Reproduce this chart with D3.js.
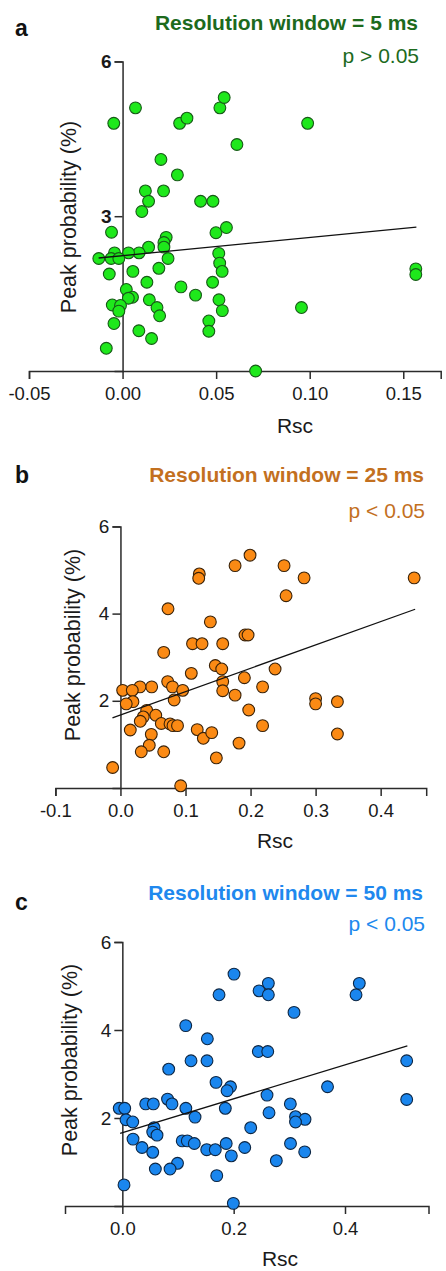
<!DOCTYPE html>
<html>
<head>
<meta charset="utf-8">
<script src="https://cdn.jsdelivr.net/npm/d3@7"></script>
<style>
  html, body { margin: 0; padding: 0; background: #fff; }
  svg { display: block; font-family: "Liberation Sans", Arial, sans-serif; }
</style>
</head>
<body>
<script>
// panel a, resolution window 5 ms
const aRsc = [-0.0047, 0.0069, 0.0305, 0.0344, 0.0520, 0.0543, 0.0989, 0.0611, 0.0205, 0.0293,
    0.0122, 0.0219, 0.0139, 0.0103, 0.0417, 0.0483, -0.0059, 0.0499, 0.0555, 0.0233,
    0.0221, 0.0221, 0.0139, 0.0088, 0.0032, -0.0043, -0.0127, -0.0061, -0.0020, 0.0243,
    0.0514, 0.0519, 0.0532, -0.0071, 0.0055, 0.0194, 0.1567, 0.1567, 0.0130, 0.0481,
    0.0312, 0.0390, 0.0020, 0.0053, 0.0031, -0.0055, -0.0011, -0.0020, 0.0143, 0.0184,
    0.0198, 0.0515, 0.0533, 0.0956, -0.0046, 0.0087, 0.0155, 0.0461, 0.0461, -0.0087, 0.0711]
const aPeak = [4.80, 5.10, 4.80, 4.90, 5.10, 5.30, 4.80, 4.39, 4.10, 3.80,
    3.49, 3.49, 3.29, 3.09, 3.29, 3.29, 2.69, 2.68, 2.78, 2.59,
    2.49, 2.40, 2.40, 2.29, 2.29, 2.29, 2.18, 2.18, 2.18, 2.18,
    2.28, 2.09, 1.93, 1.88, 1.93, 1.99, 1.98, 1.87, 1.72, 1.72,
    1.63, 1.47, 1.58, 1.43, 1.41, 1.28, 1.27, 1.16, 1.38, 1.23,
    1.07, 1.38, 1.17, 1.23, 0.92, 0.78, 0.63, 0.97, 0.77, 0.44, 0.00]

// panel b, resolution window 25 ms
const bRsc = [0.1992, 0.1762, 0.2515, 0.1212, 0.1203, 0.2823, 0.4515, 0.2546, 0.0731, 0.1382,
    0.1915, 0.1962, 0.1108, 0.1254, 0.1572, 0.0665, 0.1458, 0.1557, 0.2377, 0.1089,
    0.1905, 0.1572, 0.0726, 0.0800, 0.0480, 0.0300, 0.0957, 0.0034, 0.0182, 0.2185,
    0.1572, 0.1762, 0.3000, 0.3000, 0.3335, 0.0826, 0.0192, 0.0089, 0.1972, 0.0403,
    0.0543, 0.0351, 0.0305, 0.0628, 0.0762, 0.0808, 0.0877, 0.0151, 0.0474, 0.1180,
    0.1274, 0.1403, 0.2185, 0.3335, 0.1823, 0.0443, 0.0320, 0.0665, 0.1474, -0.0120, 0.0926]
const bPeak = [5.34, 5.10, 5.10, 4.91, 4.81, 4.82, 4.82, 4.41, 4.11, 3.81,
    3.51, 3.51, 3.31, 3.31, 3.31, 3.11, 2.81, 2.73, 2.73, 2.63,
    2.53, 2.44, 2.44, 2.32, 2.32, 2.32, 2.24, 2.24, 2.24, 2.32,
    2.23, 2.13, 2.05, 1.93, 1.98, 2.02, 1.98, 1.93, 1.79, 1.78,
    1.67, 1.63, 1.53, 1.48, 1.47, 1.43, 1.43, 1.33, 1.23, 1.34,
    1.14, 1.27, 1.43, 1.24, 1.03, 0.98, 0.83, 0.83, 0.69, 0.47, 0.05]

// panel c, resolution window 50 ms
const cRsc = [0.2006, 0.2623, 0.4257, 0.2456, 0.2623, 0.4198, 0.1737, 0.3084, 0.1139, 0.1527,
    0.2443, 0.2612, 0.1234, 0.1521, 0.5108, 0.0833, 0.1683, 0.1943, 0.1881, 0.3686,
    0.2599, 0.0812, 0.0892, 0.0420, 0.0557, 0.1141, 0.1850, 0.3018, 0.5108, -0.0056,
    0.0043, 0.2635, 0.1306, 0.3111, 0.3282, 0.3111, 0.0066, 0.0187, 0.0570, 0.0546,
    0.0623, 0.2306, 0.0192, 0.0354, 0.0546, 0.1076, 0.1167, 0.1293, 0.1516, 0.1670,
    0.1866, 0.1958, 0.2199, 0.3021, 0.3276, 0.2766, 0.0991, 0.0857, 0.0593, 0.1696, 0.0030, 0.1994]
const cPeak = [5.27, 5.06, 5.06, 4.89, 4.80, 4.80, 4.80, 4.40, 4.10, 3.80,
    3.51, 3.51, 3.30, 3.30, 3.30, 3.11, 2.81, 2.71, 2.62, 2.71,
    2.52, 2.43, 2.32, 2.32, 2.32, 2.22, 2.22, 2.32, 2.42, 2.22,
    2.22, 2.12, 2.02, 2.03, 1.97, 1.91, 1.96, 1.91, 1.78, 1.68,
    1.61, 1.78, 1.52, 1.33, 1.22, 1.48, 1.48, 1.42, 1.28, 1.28,
    1.42, 1.14, 1.33, 1.42, 1.23, 1.03, 0.97, 0.84, 0.84, 0.69, 0.48, 0.06]

// regression lines (end points)
const aFitX = [-0.0128, 0.157], aFitY = [2.19, 2.79]
const bFitX = [-0.0123, 0.453], bFitY = [1.61, 4.10]
const cFitX = [-0.004, 0.512], cFitY = [1.65, 3.64]

const aXTicks = [-0.05, 0, 0.05, 0.10, 0.15], aYTicks = [3, 6]
const bXTicks = [-0.1, 0, 0.1, 0.2, 0.3, 0.4], bYTicks = [2, 4, 6]
const cXTicks = [0, 0.2, 0.4], cYTicks = [2, 4, 6]

const letters = ['a', 'b', 'c']
const titles = ['Resolution window = 5 ms', 'Resolution window = 25 ms', 'Resolution window = 50 ms']
const pTexts = ['p > 0.05', 'p < 0.05', 'p < 0.05']

const W = 446, H = 1271

const panels = [
    {
        rsc: aRsc, peak: aPeak, fitX: aFitX, fitY: aFitY, xTicks: aXTicks, yTicks: aYTicks,
        xDomain: [-0.05, 0.17], xRange: [29, 440.7], yRange: [371, 61.4], digits: 2, boldY: true,
        fill: '#1ee81b', stroke: '#175a17', titleColor: '#1d6a1d',
        titleAt: [418, 30], pAt: [419, 63], letterAt: [15, 36], rscAt: [295, 433], ylabAt: [68, 217]
    },
    {
        rsc: bRsc, peak: bPeak, fitX: bFitX, fitY: bFitY, xTicks: bXTicks, yTicks: bYTicks,
        xDomain: [-0.1, 0.47], xRange: [55.4, 426.2], yRange: [788, 526.4], digits: 1, boldY: false,
        fill: '#fb8a14', stroke: '#3a2208', titleColor: '#c3701f',
        titleAt: [424, 482], pAt: [425, 518], letterAt: [15, 483], rscAt: [275, 848], ylabAt: [72, 645]
    },
    {
        rsc: cRsc, peak: cPeak, fitX: cFitX, fitY: cFitY, xTicks: cXTicks, yTicks: cYTicks,
        xDomain: [-0.103, 0.55], xRange: [65, 428.5], yRange: [1206, 942], digits: 1, boldY: false,
        fill: '#1a86ee', stroke: '#0c2644', titleColor: '#2088ee',
        titleAt: [423, 900], pAt: [425, 931], letterAt: [15, 910], rscAt: [280, 1266], ylabAt: [69, 1060]
    }
]

const svg = d3.select('body').append('svg')
    .attr('width', W)
    .attr('height', H)

panels.forEach(function (p, i) {
    const g = svg.append('g')

    const x = d3.scaleLinear().domain(p.xDomain).range(p.xRange)
    const y = d3.scaleLinear().domain([0, 6]).range(p.yRange)

    // x axis
    const xAxis = g.append('g')
        .attr('transform', `translate(0,${y(0)})`)
        .call(d3.axisBottom(x)
            .tickValues(p.xTicks)
            .tickSizeOuter(0)
            .tickSize(8)
            .tickPadding(8)
            .tickFormat(d => d.toFixed(p.digits)))

    // y axis sits at Rsc = 0
    const yAxis = g.append('g')
        .attr('transform', `translate(${x(0)},0)`)
        .call(d3.axisLeft(y)
            .tickValues(p.yTicks)
            .tickSizeOuter(0)
            .tickSize(8)
            .tickPadding(3)
            .tickFormat(d3.format('d')))

    g.selectAll('.domain, .tick line')
        .attr('stroke', '#2b2b2b')
        .attr('stroke-width', 1.5)

    xAxis.selectAll('text')
        .attr('font-size', 18.5)
        .attr('fill', '#1a1a1a')
        .attr('font-family', '"Liberation Sans", Arial, sans-serif')

    yAxis.selectAll('text')
        .attr('font-size', 19)
        .attr('fill', '#1a1a1a')
        .attr('font-weight', p.boldY ? 'bold' : 'normal')
        .attr('font-family', '"Liberation Sans", Arial, sans-serif')

    // points
    g.append('g').selectAll('circle')
        .data(p.rsc.map((r, k) => [r, p.peak[k]]))
        .join('circle')
        .attr('cx', d => x(d[0]))
        .attr('cy', d => y(d[1]))
        .attr('r', 5.9)
        .attr('fill', p.fill)
        .attr('stroke', p.stroke)
        .attr('stroke-width', 1.1)

    // regression line
    g.append('line')
        .attr('x1', x(p.fitX[0]))
        .attr('y1', y(p.fitY[0]))
        .attr('x2', x(p.fitX[1]))
        .attr('y2', y(p.fitY[1]))
        .attr('stroke', '#111')
        .attr('stroke-width', 1.3)

    // labels
    g.append('text')
        .attr('x', p.letterAt[0])
        .attr('y', p.letterAt[1])
        .attr('font-size', 23)
        .attr('font-weight', 'bold')
        .attr('fill', '#111')
        .text(letters[i])

    g.append('text')
        .attr('x', p.titleAt[0])
        .attr('y', p.titleAt[1])
        .attr('text-anchor', 'end')
        .attr('font-size', 21)
        .attr('font-weight', 'bold')
        .attr('fill', p.titleColor)
        .text(titles[i])

    g.append('text')
        .attr('x', p.pAt[0])
        .attr('y', p.pAt[1])
        .attr('text-anchor', 'end')
        .attr('font-size', 21)
        .attr('fill', p.titleColor)
        .text(pTexts[i])

    g.append('text')
        .attr('x', p.rscAt[0])
        .attr('y', p.rscAt[1])
        .attr('text-anchor', 'middle')
        .attr('font-size', 21)
        .attr('fill', '#1a1a1a')
        .text('Rsc')

    g.append('text')
        .attr('transform', `translate(${p.ylabAt[0]},${p.ylabAt[1]}) rotate(-90)`)
        .attr('text-anchor', 'middle')
        .attr('dy', '0.35em')
        .attr('font-size', 21.5)
        .attr('fill', '#1a1a1a')
        .text('Peak probability (%)')
})
</script>
</body>
</html>
